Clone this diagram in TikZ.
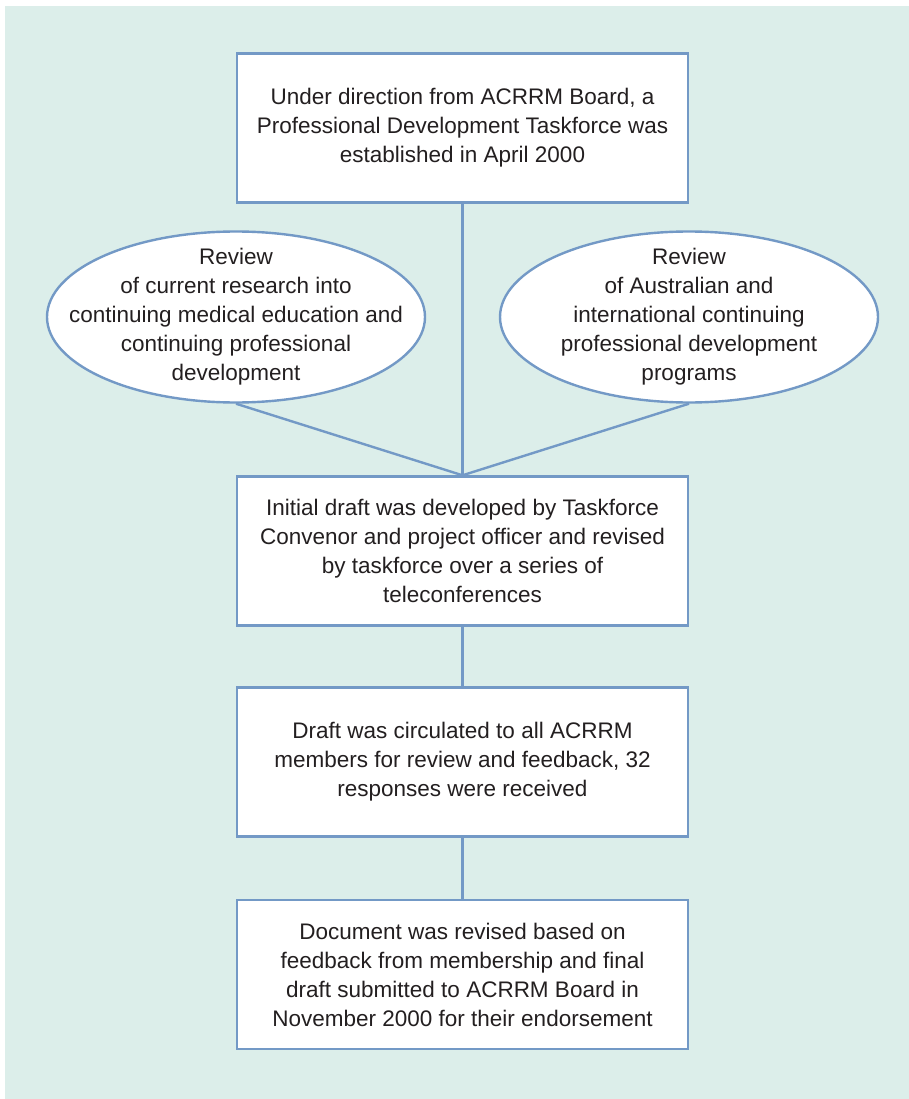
\documentclass[tikz,border=0pt]{standalone}
\usepackage{fontspec}
\setmainfont{Liberation Sans}
\usetikzlibrary{shapes.geometric}
\definecolor{mint}{RGB}{220,238,234}
\definecolor{edgeblue}{RGB}{115,153,198}
\definecolor{ink}{RGB}{35,31,32}
\tikzset{
  stage/.style={draw=edgeblue, line width=2.4pt, fill=white, text=ink,
    minimum width=451pt, minimum height=149pt, inner sep=0pt, align=center,
    font=\fontsize{22.5}{29}\selectfont},
  review/.style={ellipse, draw=edgeblue, line width=2.4pt, fill=white,
    minimum width=378pt, minimum height=171pt, inner sep=0pt},
  reviewtext/.style={text=ink, inner sep=0pt, align=center,
    font=\fontsize{22.5}{29}\selectfont},
  link/.style={edgeblue, line width=2.4pt}
}
\begin{document}
\begin{tikzpicture}[x=1pt, y=-1pt]
    \useasboundingbox (0, 0) rectangle (909, 1099);
    \fill[mint] (5, 6) rectangle (909, 1099);

    \def\midx{462.5}

    \node[stage] (board) at (\midx, 128) {Under direction from ACRRM Board, a\\Professional Development Taskforce was\\established in April 2000};

    \node[review] (cme) at (236, 317) {};
    \node[reviewtext] (cmetext) at (cme.center) {Review\\of current research into\\continuing medical education and\\continuing professional\\development};
    \node[review] (intl) at (689, 317) {};
    \node[reviewtext] (intltext) at (intl.center) {Review\\of Australian and\\international continuing\\professional development\\programs};

    \node[stage] (draft) at (\midx, 551) {Initial draft was developed by Taskforce\\Convenor and project officer and revised\\by taskforce over a series of\\teleconferences};
    \node[stage] (circ) at (\midx, 762) {Draft was circulated to all ACRRM\\members for review and feedback, 32\\responses were received};
    \node[stage] (final) at (\midx, 974.5) {Document was revised based on\\feedback from membership and final\\draft submitted to ACRRM Board in\\November 2000 for their endorsement};

    \draw[link] (board.south) -- (draft.north);
    \draw[link] (cme.south) -- (draft.north);
    \draw[link] (intl.south) -- (draft.north);
    \draw[link] (draft.south) -- (circ.north);
    \draw[link] (circ.south) -- (final.north);
\end{tikzpicture}
\end{document}
